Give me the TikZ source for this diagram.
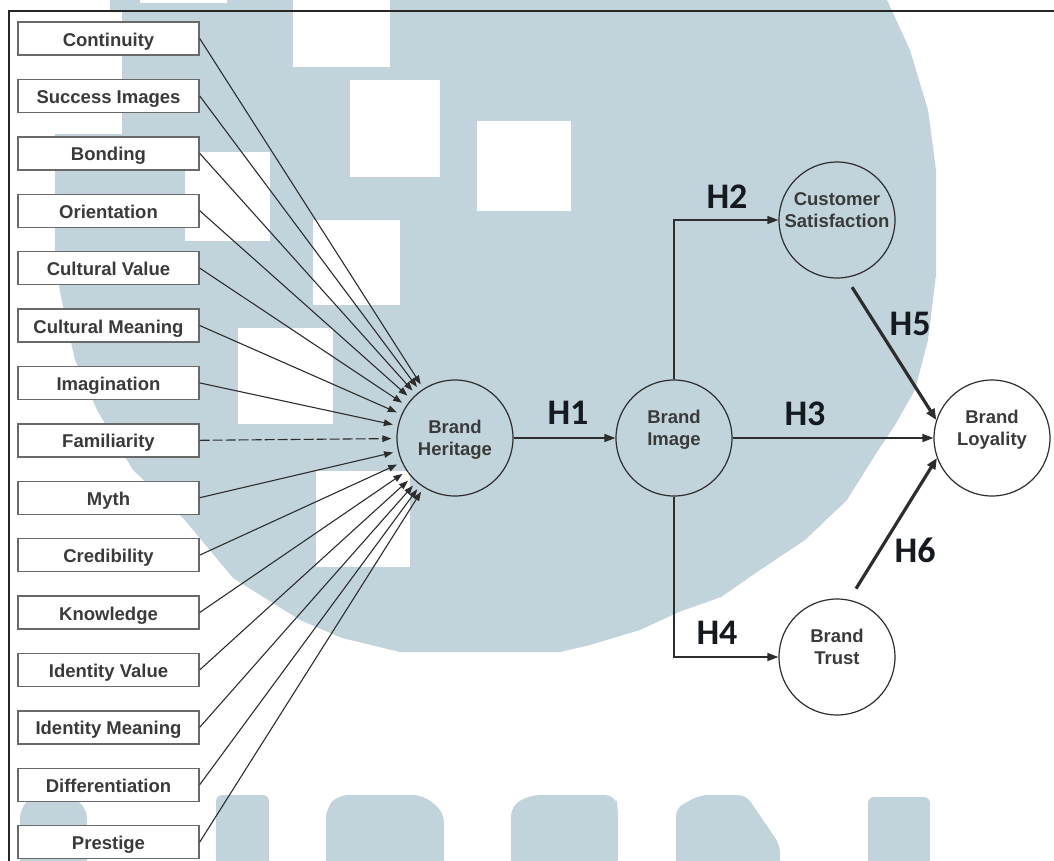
\documentclass[tikz,border=0pt]{standalone}
\usepackage{fontspec}
\setmainfont{Liberation Sans}
\newfontfamily\hfont{Carlito}
\usetikzlibrary{arrows.meta}
\definecolor{wm}{RGB}{193,212,220}
\definecolor{ink}{RGB}{45,45,45}
\definecolor{boxline}{RGB}{105,105,105}
\definecolor{txt}{RGB}{58,58,58}
\definecolor{hink}{RGB}{20,26,32}
\begin{document}
\begin{tikzpicture}[x=1pt,y=-1pt,
  item/.style={draw=boxline, line width=1.4pt, fill=white, minimum width=181pt,
    minimum height=33pt, inner sep=0pt, text height=17pt, text depth=1.8pt,
    font=\fontsize{18.5}{22}\selectfont\bfseries, text=txt},
  var/.style={circle, draw=ink, line width=1.2pt, minimum size=116pt, inner sep=0pt},
  vtext/.style={align=center, font=\fontsize{18.5}{22}\selectfont\bfseries,
    text=txt, text depth=4pt, inner sep=0pt},
  hyp/.style={font=\hfont\fontsize{36}{40}\selectfont\bfseries, text=hink, inner sep=0pt},
  feed/.style={draw=ink, line width=1.1pt, -{Triangle[length=9pt,width=6.5pt]}, shorten >=5pt},
  hlink/.style={draw=ink, line width=1.5pt, -{Triangle[length=11pt,width=8pt]}},
  heavy/.style={draw=ink, line width=3.2pt, -{Triangle[length=11pt,width=9pt]}}
]
\useasboundingbox (0,0) rectangle (1054,860);
% watermark
\begin{scope}
\clip (0,0) rectangle (1054,860);
\fill[wm] (110,0) -- (887,0) -- (910,50) -- (928,110) -- (936,170) -- (936,275)
  -- (928,340) -- (915,390) -- (895,425) -- (877,452) -- (847,500) -- (805,540)
  -- (763,568) -- (721,597) -- (679,612) -- (640,630) -- (590,645) -- (560,652)
  -- (400,652) -- (342,638) -- (300,620) -- (233,578) -- (183,518) -- (133,470)
  -- (97,410) -- (75,360) -- (60,292) -- (55,250) -- (55,134) -- (122,134)
  -- (122,12) -- (110,12) -- cycle;
\fill[white] (140,0) rectangle (227,3);
\fill[white] (293,0) rectangle (390,67);
\fill[white] (350,80) rectangle (440,177);
\fill[white] (477,121) rectangle (571,211);
\fill[white] (185,152) rectangle (270,241);
\fill[white] (313,220) rectangle (400,305);
\fill[white] (238,328) rectangle (333,424);
\fill[white] (316,471) rectangle (410,567);
\fill[wm, rounded corners=8pt] (20,870) -- (20,810) -- (32,795) -- (72,795) -- (87,810) -- (87,870) -- cycle;
\fill[wm, rounded corners=6pt] (216,870) -- (216,795) -- (269,795) -- (269,870) -- cycle;
\fill[wm, rounded corners=10pt] (326,870) -- (326,808) -- (338,795) -- (423,795) -- (444,812) -- (444,870) -- cycle;
\fill[wm, rounded corners=10pt] (511,870) -- (511,806) -- (530,795) -- (615,795) -- (618,806) -- (618,870) -- cycle;
\fill[wm, rounded corners=8pt] (676,870) -- (676,808) -- (700,795) -- (746,795) -- (780,845) -- (780,870) -- cycle;
\fill[wm, rounded corners=6pt] (868,870) -- (868,797) -- (930,797) -- (930,870) -- cycle;
\end{scope}
% frame
\draw[line width=2pt, black!85] (9,862) -- (9,11) -- (1056,11);
% indicator boxes
\foreach \t [count=\i from 0] in {Continuity, Success Images, Bonding, Orientation,
  Cultural Value, Cultural Meaning, Imagination, Familiarity, Myth, Credibility,
  Knowledge, Identity Value, Identity Meaning, Differentiation, Prestige}
  \node[item] (b\i) at (108.5,{38.5+57.4*\i}) {\t};
% constructs
\node[var] (bh) at (455,438) {};
\node[var] (bi) at (674,438) {};
\node[var] (bl) at (992,438) {};
\node[var] (cs) at (837,220) {};
\node[var] (bt) at (837,657) {};
\node[vtext] (bht) at (455,440) {Brand\\Heritage};
\node[vtext] (bit) at (674,430) {Brand\\Image};
\node[vtext] (blt) at (992,430) {Brand\\Loyality};
\node[vtext] (cst) at (837,212) {Customer\\Satisfaction};
\node[vtext] (btt) at (837,649) {Brand\\Trust};
% indicator arrows
\foreach \i in {0,...,6,8,9,10,11,12,13,14}
  \draw[feed] (b\i.east) -- (bh);
\draw[feed, dash pattern=on 10pt off 3pt] (b7.east) -- (bh);
% hypotheses
\draw[hlink] (bh) -- (bi);
\draw[hlink] (bi.north) |- (cs.west);
\draw[hlink] (bi) -- (bl);
\draw[hlink] (bi.south) |- (bt.west);
\draw[heavy, shorten <=11pt] (cs.-81) -- (bl.162);
\draw[heavy, shorten <=13pt] (bt.78) -- (bl.-160);
\node[hyp] (h1) at (568,413) {H1};
\node[hyp] (h2) at (727,197) {H2};
\node[hyp] (h3) at (805,414) {H3};
\node[hyp] (h4) at (717,633) {H4};
\node[hyp] (h5) at (910,324) {H5};
\node[hyp] (h6) at (915,550) {H6};
\end{tikzpicture}
\end{document}
